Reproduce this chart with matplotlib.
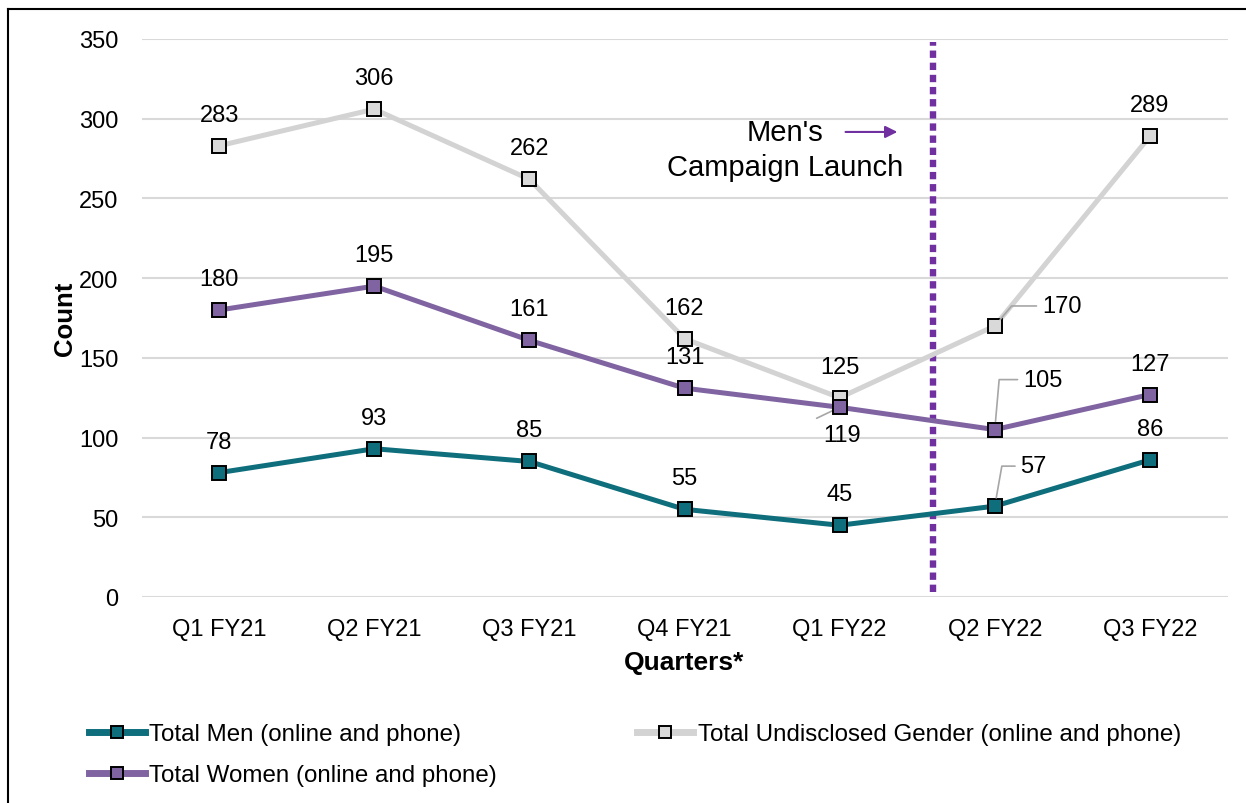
"""Quarterly counts by gender, with the men's campaign launch marked."""

import matplotlib

matplotlib.use("Agg")
import matplotlib.pyplot as plt
from matplotlib.lines import Line2D

quarters = ["Q1 FY21", "Q2 FY21", "Q3 FY21", "Q4 FY21", "Q1 FY22", "Q2 FY22", "Q3 FY22"]
men = [78, 93, 85, 55, 45, 57, 86]
women = [180, 195, 161, 131, 119, 105, 127]
undisclosed = [283, 306, 262, 162, 125, 170, 289]
launch_pos = 4.6  # between Q1 FY22 and Q2 FY22

TEAL = "#0E6E7C"
PURPLE = "#8064A2"
GREY = "#D3D3D3"
LAUNCH = "#7030A0"
FS = 17

plt.rcParams["font.family"] = ["Liberation Sans", "DejaVu Sans"]

fig = plt.figure(figsize=(12.46, 8.04), dpi=100)
ax = fig.add_axes([141.5 / 1246, 1 - 598 / 804, 1086 / 1246, 558 / 804])

x = list(range(len(quarters)))
series = [
    ("Total Undisclosed Gender (online and phone)", undisclosed, GREY, "#D9D9D9"),
    ("Total Women (online and phone)", women, PURPLE, PURPLE),
    ("Total Men (online and phone)", men, TEAL, TEAL),
]
for label, vals, col, face in series:
    ax.plot(x, vals, color=col, lw=3.6, marker="s", ms=9.5,
            mfc=face, mec="black", mew=1.4, label=label, zorder=3)

ax.set_xlim(-0.5, len(quarters) - 0.5)
ax.set_ylim(0, 350)
ax.set_yticks(range(0, 351, 50))
ax.set_xticks(x)
ax.set_xticklabels(quarters)
ax.grid(axis="y", color="#D9D9D9", lw=1.5)
ax.set_axisbelow(True)
for s in ax.spines.values():
    s.set_visible(False)
ax.tick_params(length=0, labelsize=FS)
ax.tick_params(axis="y", pad=16.5)
ax.tick_params(axis="x", pad=15)

ax.set_ylabel("Count", fontsize=18.5, fontweight="bold", labelpad=1.5)
ax.set_xlabel("Quarters*", fontsize=19, fontweight="bold", labelpad=7.5)

# data labels: default above the point, a few moved with leader lines
lead = dict(arrowstyle="-", color="#A6A6A6", lw=1.2)
special = {
    ("women", 4): dict(xytext=(2, -28)),
    ("undisclosed", 5): dict(xytext=(67, 20), rel=(0.0, 0.5), cs="angle,angleA=180,angleB=50"),
    ("women", 5): dict(xytext=(48, 50), rel=(0.0, 0.5), cs="angle,angleA=180,angleB=85"),
    ("men", 5): dict(xytext=(39, 40), rel=(0.0, 0.5), cs="angle,angleA=180,angleB=80"),
}
for key, vals in [("men", men), ("women", women), ("undisclosed", undisclosed)]:
    for i, v in enumerate(vals):
        sp = special.get((key, i), dict(xytext=(0, 31)))
        props = None
        if "cs" in sp:
            props = dict(lead, connectionstyle=sp["cs"], relpos=sp["rel"],
                         shrinkA=2, shrinkB=6)
        ax.annotate(str(v), (i, v), xytext=sp["xytext"], textcoords="offset pixels",
                    ha="center", va="center", fontsize=FS, zorder=5, arrowprops=props)

# straight leader for the 119 label (sits below the point)
ax.annotate("", (4, women[4]), xytext=(-23, -11), textcoords="offset pixels",
            arrowprops=dict(lead, shrinkA=0, shrinkB=2), zorder=2)

# campaign launch marker
ax.plot([launch_pos, launch_pos], [3, 348], color=LAUNCH, lw=4.6,
        ls=(0, (1.15, 0.75)), dash_capstyle="butt", zorder=2)
ax.annotate("", xy=(4.39, 291.7), xytext=(4.02, 291.7),
            arrowprops=dict(arrowstyle="-|>", color=LAUNCH, lw=1.5, mutation_scale=18))
ax.text(3.65, 291.7, "Men's", ha="center", va="center", fontsize=21)
ax.text(3.65, 270, "Campaign Launch", ha="center", va="center", fontsize=21)

handles = [
    Line2D([], [], color=TEAL, lw=5, marker="s", ms=9, mfc=TEAL, mec="black", mew=1.4),
    Line2D([], [], color=PURPLE, lw=5, marker="s", ms=9, mfc=PURPLE, mec="black", mew=1.4),
    Line2D([], [], color=GREY, lw=5, marker="s", ms=9, mfc="#D9D9D9", mec="black", mew=1.4),
]
labels = [
    "Total Men (online and phone)",
    "Total Women (online and phone)",
    "Total Undisclosed Gender (online and phone)",
]
fig.legend(handles, labels, loc="upper left", bbox_to_anchor=(89 / 1246, 1 - 724 / 804),
           ncol=2, frameon=False, fontsize=17.4, handlelength=2.3, handletextpad=0.2,
           columnspacing=5.8, labelspacing=0.8, borderpad=0, borderaxespad=0)

# outer frame (top and left edges visible in the reference)
fig.add_artist(Line2D([8 / 1246, 8 / 1246], [0, 1 - 10 / 804], color="black", lw=1.5))
fig.add_artist(Line2D([8 / 1246, 1], [1 - 10 / 804, 1 - 10 / 804], color="black", lw=1.5))

fig.savefig("out.png", dpi=100)
